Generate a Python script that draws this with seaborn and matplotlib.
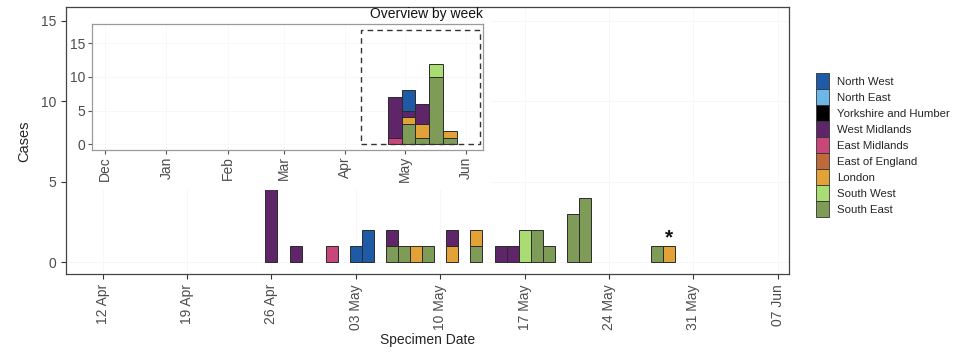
import pandas as pd
import matplotlib
matplotlib.use("Agg")
import matplotlib.pyplot as plt
import matplotlib.dates as mdates
from matplotlib.patches import Patch, Rectangle
import seaborn as sns

# ===============================
# DATA
# ===============================
region_order = ["North West", "North East", "Yorkshire and Humber", "West Midlands",
                "East Midlands", "East of England", "London", "South West", "South East"]
region_colours = ["#1F5AA6", "#6CB6E8", "#000000", "#5E2568", "#C8467A",
                  "#C06A3C", "#E2A238", "#A9DC72", "#7F9B58"]

spec_dates = ["2022-04-26", "2022-04-28", "2022-05-01", "2022-05-03", "2022-05-04",
              "2022-05-06", "2022-05-06", "2022-05-07", "2022-05-08", "2022-05-09",
              "2022-05-11", "2022-05-11", "2022-05-13", "2022-05-13", "2022-05-15",
              "2022-05-16", "2022-05-17", "2022-05-18", "2022-05-19", "2022-05-21",
              "2022-05-22", "2022-05-28", "2022-05-29"]
spec_regions = ["West Midlands", "West Midlands", "East Midlands", "North West", "North West",
                "South East", "West Midlands", "South East", "London", "South East",
                "London", "West Midlands", "South East", "London", "West Midlands",
                "West Midlands", "South West", "South East", "South East", "South East",
                "South East", "South East", "London"]
spec_cases = [5, 1, 1, 1, 2,
              1, 1, 1, 1, 1,
              1, 1, 1, 1, 1,
              1, 2, 2, 1, 3,
              4, 1, 1]
flagged_date = "2022-05-29"

main_ticks = ["2022-04-12", "2022-04-19", "2022-04-26", "2022-05-03", "2022-05-10",
              "2022-05-17", "2022-05-24", "2022-05-31", "2022-06-07"]
main_tick_labels = ["12 Apr", "19 Apr", "26 Apr", "03 May", "10 May",
                    "17 May", "24 May", "31 May", "07 Jun"]
inset_ticks = ["2021-12-01", "2022-01-01", "2022-02-01", "2022-03-01",
               "2022-04-01", "2022-05-01", "2022-06-01"]
inset_tick_labels = ["Dec", "Jan", "Feb", "Mar", "Apr", "May", "Jun"]
week_start = "2022-04-26"

# ===============================
# PREP
# ===============================
df = pd.DataFrame({"date": pd.to_datetime(spec_dates), "region": spec_regions, "cases": spec_cases})
df["day"] = mdates.date2num(df["date"])
wk0 = mdates.date2num(pd.Timestamp(week_start))
df["week"] = wk0 + 7 * ((df["day"] - wk0) // 7)

sns.set_style("white")
plt.rcParams["font.family"] = ["Liberation Sans", "DejaVu Sans"]
grey_txt = "#4D4D4D"

W, H = 961, 364
fig = plt.figure(figsize=(W / 100, H / 100), dpi=100)

def px_axes(l, t, r, b, **kw):
    return fig.add_axes([l / W, 1 - b / H, (r - l) / W, (b - t) / H], **kw)

def drop_empty(ax):
    for p in list(ax.patches):
        if p.get_height() == 0:
            p.remove()

# ===============================
# MAIN DAILY CHART
# ===============================
ax = px_axes(66, 7.3, 789.3, 274.3)
ax.set_zorder(1)
sns.histplot(data=df, x="day", weights="cases", hue="region", hue_order=region_order,
             palette=region_colours, multiple="stack", discrete=True, shrink=1,
             edgecolor="#2b2b2b", linewidth=0.7, alpha=1, legend=False, ax=ax)
drop_empty(ax)

t0 = mdates.date2num(pd.Timestamp(main_ticks[0]))
t1 = mdates.date2num(pd.Timestamp(main_ticks[-1]))
ax.set_xlim(t0 - 3.04, t1 + 0.95)
ax.set_ylim(-0.75, 15.82)
ax.set_yticks([0, 5, 10, 15])
ax.set_xticks(mdates.date2num(pd.to_datetime(main_ticks)))
ax.set_xticklabels(main_tick_labels, rotation=90)
ax.tick_params(axis="both", colors="#333333", labelcolor=grey_txt, labelsize=10,
               length=3.5, width=0.8, bottom=True, left=True)
ax.grid(True, color="#f4f4f4", linewidth=0.5)
for s in ax.spines.values():
    s.set_color("#444444")
    s.set_linewidth(0.9)
ax.set_ylabel("Cases", fontsize=10.5, labelpad=7)
ax.set_xlabel("Specimen Date", fontsize=10, labelpad=2)

ax.text(mdates.date2num(pd.Timestamp(flagged_date)), 1.5, "*", ha="center", va="center",
        fontsize=15, fontweight="bold", color="#111111")

# ===============================
# INSET BACKGROUND + WEEKLY OVERVIEW
# ===============================
bg = px_axes(69, 8.5, 490, 189.5)
bg.set_zorder(2)
bg.set_facecolor("white")
bg.set_xticks([])
bg.set_yticks([])
for s in bg.spines.values():
    s.set_visible(False)

ins = px_axes(91.7, 24, 482.5, 150)
ins.set_zorder(3)
sns.histplot(data=df, x="week", weights="cases", hue="region", hue_order=region_order,
             palette=region_colours, multiple="stack", binwidth=7,
             binrange=(wk0 - 3.5, wk0 + 7 * 5 - 3.5),
             edgecolor="#2b2b2b", linewidth=0.7, alpha=1, legend=False, ax=ins)
drop_empty(ins)

d0 = mdates.date2num(pd.Timestamp(inset_ticks[0]))
ins.set_xlim(d0 - 6.7, d0 + 190.3)
ins.set_ylim(-0.85, 17.87)
ins.set_yticks([0, 5, 10, 15])
ins.set_xticks(mdates.date2num(pd.to_datetime(inset_ticks)))
ins.set_xticklabels(inset_tick_labels, rotation=90)
ins.tick_params(axis="both", colors="#555555", labelcolor=grey_txt, labelsize=10,
                length=3, width=0.8, pad=1.5, bottom=True, left=True)
ins.grid(True, color="#f6f6f6", linewidth=0.5)
for s in ins.spines.values():
    s.set_color("#9a9a9a")
    s.set_linewidth(0.9)
ins.set_xlabel("")
ins.set_ylabel("")

x_lo, x_hi = ax.get_xlim()
ins.add_patch(Rectangle((x_lo, 0), x_hi - x_lo, 17, fill=False, edgecolor="#333333",
                        linewidth=1.0, linestyle=(0, (4, 3)), zorder=5, clip_on=False))
ins.text(1.0, 1.02, "Overview by week", transform=ins.transAxes, ha="right", va="bottom",
         fontsize=10, color="#111111")

# ===============================
# LEGEND
# ===============================
handles = [Patch(facecolor=c, edgecolor="#333333", linewidth=0.6) for c in region_colours]
fig.legend(handles, region_order, loc="upper left", bbox_to_anchor=(815.7 / W, 1 - 73.3 / H),
           frameon=False, fontsize=8.2, handlelength=1.19, handleheight=1.785,
           labelspacing=0.0, handletextpad=0.68, borderpad=0, borderaxespad=0)

fig.savefig("out.png", dpi=100)
